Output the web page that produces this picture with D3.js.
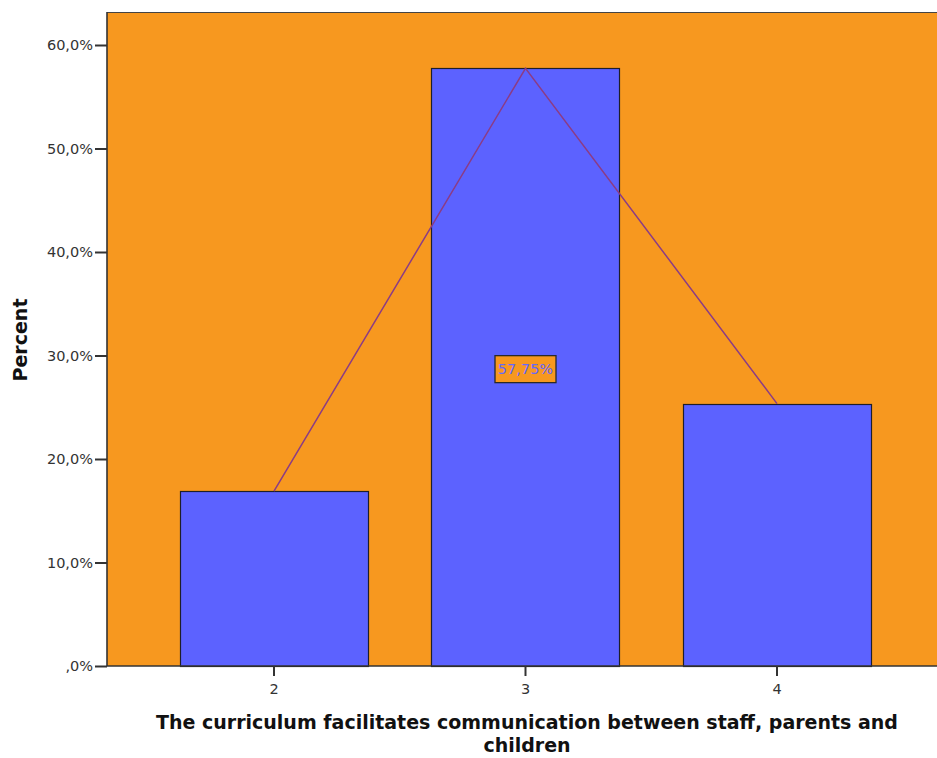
<!DOCTYPE html>
<html>
<head>
<meta charset="utf-8">
<script src="https://cdn.jsdelivr.net/npm/d3@7"></script>
<style>
  html, body { margin: 0; padding: 0; background: #ffffff; }
  svg { display: block; }
</style>
</head>
<body>
<svg id="chart" width="937" height="758"></svg>
<script>
// Response categories and the share of respondents for each
const categories = ["2", "3", "4"];
const percents = [16.90, 57.75, 25.35];
const yTicks = [0, 10, 20, 30, 40, 50, 60];
const xTitleLines = ["The curriculum facilitates communication between staff, parents and", "children"];
const yTitle = "Percent";
const labelledCategory = "3";

const svg = d3.select("#chart");
const plot = { left: 107, top: 12, right: 944, bottom: 666 };
const FONT = "'DejaVu Sans', sans-serif";

const x = d3.scaleBand()
  .domain(categories)
  .range([plot.left, plot.right])
  .paddingInner(0.252)
  .paddingOuter(0.29);

const y = d3.scaleLinear()
  .domain([0, 60])
  .range([plot.bottom, plot.top + 33]);

const fmtTick = v => v === 0 ? ",0%" : d3.format(".1f")(v).replace(".", ",") + "%";

// plot background
svg.append("rect")
  .attr("x", plot.left).attr("y", plot.top)
  .attr("width", plot.right - plot.left).attr("height", plot.bottom - plot.top)
  .attr("fill", "#f7981f");

// top frame line
svg.append("line")
  .attr("x1", plot.left).attr("x2", plot.right)
  .attr("y1", plot.top + 0.5).attr("y2", plot.top + 0.5)
  .attr("stroke", "#444").attr("stroke-width", 1.2);

// bars
svg.append("g").selectAll("rect")
  .data(categories)
  .join("rect")
  .attr("x", d => Math.round(x(d)) + 0.5)
  .attr("y", (d, i) => Math.round(y(percents[i])) + 0.5)
  .attr("width", Math.round(x.bandwidth()))
  .attr("height", (d, i) => Math.round(y(0)) - Math.round(y(percents[i])))
  .attr("fill", "#5c62ff")
  .attr("stroke", "#1e1e2a")
  .attr("stroke-width", 1.2);

// polygon through bar tops
const line = d3.line()
  .x((d, i) => x(categories[i]) + x.bandwidth() / 2)
  .y(d => y(d));
svg.append("path")
  .datum(percents)
  .attr("d", line)
  .attr("fill", "none")
  .attr("stroke", "#8b3c85")
  .attr("stroke-width", 1.5);

// y axis
const yAxis = d3.axisLeft(y)
  .tickValues(yTicks)
  .tickSize(12)
  .tickPadding(2)
  .tickFormat(fmtTick);
const gy = svg.append("g")
  .attr("transform", `translate(${plot.left},0)`)
  .call(yAxis);
gy.select(".domain").attr("stroke", "#333").attr("stroke-width", 1.6)
  .attr("d", `M0,${plot.top}V${plot.bottom}`);
gy.selectAll(".tick line").attr("stroke", "#333").attr("stroke-width", 2);
gy.selectAll(".tick text")
  .attr("font-family", FONT)
  .attr("font-size", 14.5).attr("fill", "#333");

// x axis
const xAxis = d3.axisBottom(x).tickSize(10).tickPadding(8);
const gx = svg.append("g")
  .attr("transform", `translate(0,${plot.bottom})`)
  .call(xAxis);
gx.select(".domain").attr("stroke", "#333").attr("stroke-width", 1.6)
  .attr("d", `M${plot.left},0H${plot.right}`);
gx.selectAll(".tick line").attr("stroke", "#333").attr("stroke-width", 2);
gx.selectAll(".tick text")
  .attr("font-family", FONT)
  .attr("font-size", 14.5).attr("fill", "#333");

// value label on the tallest bar
const li = categories.indexOf(labelledCategory);
const lv = percents[li];
const lx = x(labelledCategory) + x.bandwidth() / 2;
const ly = (y(lv) + y(0)) / 2;
const labelText = d3.format(".2f")(lv).replace(".", ",") + "%";
const lg = svg.append("g").attr("transform", `translate(${lx},${ly + 2})`);
const lt = lg.append("text")
  .attr("text-anchor", "middle")
  .attr("dy", "0.36em")
  .attr("font-family", FONT)
  .attr("font-size", 14.5)
  .attr("fill", "#6468ff")
  .text(labelText);
const bb = lt.node().getBBox();
lg.insert("rect", "text")
  .attr("x", Math.round(bb.x - 3) + 0.5)
  .attr("y", -13.5)
  .attr("width", Math.round(bb.width + 6))
  .attr("height", 27)
  .attr("fill", "#f7981f")
  .attr("stroke", "#2a2a2a")
  .attr("stroke-width", 1.3);

// axis titles
svg.append("text")
  .attr("transform", `translate(27,340) rotate(-90)`)
  .attr("text-anchor", "middle")
  .attr("font-family", FONT)
  .attr("font-weight", "bold")
  .attr("font-size", 19)
  .attr("fill", "#111")
  .text(yTitle);

svg.append("text")
  .attr("text-anchor", "middle")
  .attr("font-family", FONT)
  .attr("font-weight", "bold")
  .attr("font-size", 19)
  .attr("fill", "#111")
  .selectAll("tspan")
  .data(xTitleLines)
  .join("tspan")
  .attr("x", 527)
  .attr("y", (d, i) => 729 + i * 23)
  .text(d => d);
</script>
</body>
</html>
